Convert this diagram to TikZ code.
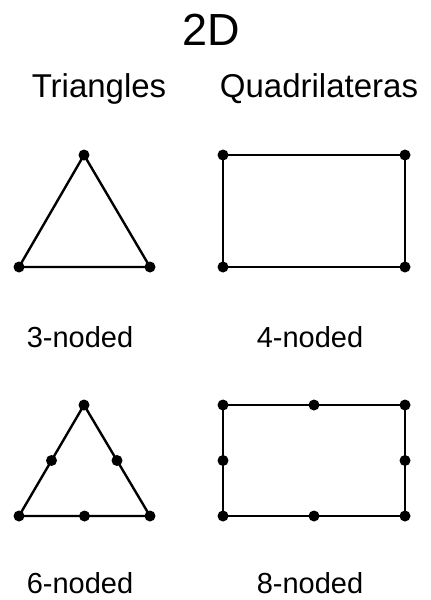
\documentclass[tikz,border=0pt]{standalone}
\usepackage{fontspec}
\setmainfont{Liberation Sans}
\usetikzlibrary{calc}
\tikzset{
  edge/.style={line width=2.4pt, black, line join=round},
  dot/.style={circle, fill=black, inner sep=0pt, minimum size=11pt},
  ttl/.style={anchor=base, inner sep=0pt, font=\fontsize{45}{54}\selectfont},
  head/.style={anchor=base, inner sep=0pt, font=\fontsize{33}{40}\selectfont},
  lbl/.style={anchor=base, inner sep=0pt, font=\fontsize{29}{35}\selectfont}
}
\begin{document}
\begin{tikzpicture}[x=1pt,y=-1pt]
\useasboundingbox (0,0) rectangle (431,600);
% titles
\node[ttl] (title) at (211,45) {2D};
\node[head] (htri) at (99,97) {Triangles};
\node[head] (hquad) at (319,97) {Quadrilateras};
% 3-noded triangle
\coordinate (t1) at (84,155);
\coordinate (t2) at (19,267);
\coordinate (t3) at (150,267);
\draw[edge] (t1) -- (t2) -- (t3) -- cycle;
\foreach \p in {t1,t2,t3} \node[dot] at (\p) {};
% 4-noded quad
\coordinate (q1) at (223,155);
\coordinate (q2) at (405,155);
\coordinate (q3) at (405,267);
\coordinate (q4) at (223,267);
\draw[edge] (q1) -- (q2) -- (q3) -- (q4) -- cycle;
\foreach \p in {q1,q2,q3,q4} \node[dot] at (\p) {};
\node[lbl] (l3) at (80,347) {3-noded};
\node[lbl] (l4) at (310,347) {4-noded};
% 6-noded triangle
\coordinate (s1) at (84,405);
\coordinate (s2) at (19,516);
\coordinate (s3) at (150,516);
\draw[edge] (s1) -- (s2) -- (s3) -- cycle;
\foreach \p in {s1,s2,s3} \node[dot] at (\p) {};
\node[dot] at ($(s1)!0.5!(s2)$) {};
\node[dot] at ($(s2)!0.5!(s3)$) {};
\node[dot] at ($(s3)!0.5!(s1)$) {};
% 8-noded quad
\coordinate (r1) at (223,405);
\coordinate (r2) at (405,405);
\coordinate (r3) at (405,516);
\coordinate (r4) at (223,516);
\draw[edge] (r1) -- (r2) -- (r3) -- (r4) -- cycle;
\foreach \p in {r1,r2,r3,r4} \node[dot] at (\p) {};
\node[dot] at ($(r1)!0.5!(r2)$) {};
\node[dot] at ($(r2)!0.5!(r3)$) {};
\node[dot] at ($(r3)!0.5!(r4)$) {};
\node[dot] at ($(r4)!0.5!(r1)$) {};
\node[lbl] (l6) at (80,593) {6-noded};
\node[lbl] (l8) at (310,593) {8-noded};
\end{tikzpicture}
\end{document}
